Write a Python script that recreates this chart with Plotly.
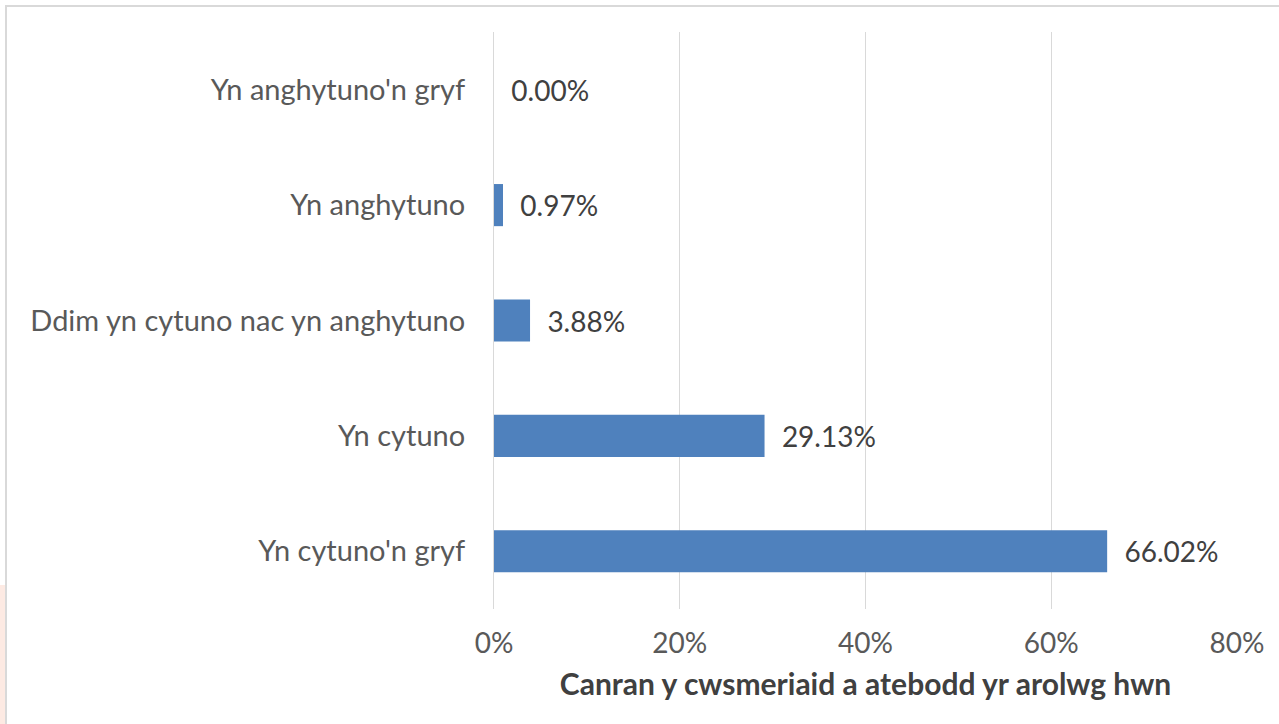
import plotly.graph_objects as go

categories = ["Yn cytuno'n gryf", "Yn cytuno", "Ddim yn cytuno nac yn anghytuno", "Yn anghytuno", "Yn anghytuno'n gryf"]
values = [66.02, 29.13, 3.88, 0.97, 0.00]
tick_vals = [0, 20, 40, 60, 80]
tick_text = ["0%", "20%", "40%", "60%", "80%"]
x_title = "Canran y cwsmeriaid a atebodd yr arolwg hwn"

FONT = "Lato, 'Noto Sans', sans-serif"

fig = go.Figure(go.Bar(
    y=categories, x=values, orientation="h",
    marker=dict(color="#4F81BD", line=dict(width=0)),
    width=0.365,
    texttemplate="\u00a0\u00a0%{x:.2f}%", textposition="outside",
    textfont=dict(family=FONT, size=28, color="#404040"),
    cliponaxis=False,
))

L, R, T, B = 494, 42, 32, 115
W, H = 1279, 724
pw = W - L - R
ph = H - T - B

fig.update_layout(
    width=W, height=H,
    margin=dict(l=L, r=R, t=T, b=B),
    plot_bgcolor="white", paper_bgcolor="white",
    showlegend=False,
    font=dict(family=FONT, color="#595959"),
    xaxis=dict(
        range=[0, 80], tickvals=tick_vals, ticktext=tick_text,
        showgrid=True, gridcolor="#D9D9D9", gridwidth=1,
        zeroline=False, showline=False,
        tickfont=dict(size=28, color="#595959"),
        ticklabelstandoff=15,
        title=dict(text="<b>" + x_title + "</b>", font=dict(size=30, color="#404040"), standoff=15),
    ),
    yaxis=dict(
        showgrid=False, zeroline=False,
        showline=True, linecolor="#D9D9D9", linewidth=1,
        tickfont=dict(size=29, color="#595959"),
        ticklabelstandoff=22,
    ),
    shapes=[
        dict(type="rect", xref="paper", yref="paper",
             x0=(6 - L) / pw, x1=(W + 5 - L) / pw,
             y0=-(H + 5 - T - ph) / ph - 0.01, y1=1 + (T - 6) / ph,
             line=dict(color="#D9D9D9", width=2), fillcolor="rgba(0,0,0,0)", layer="below"),
        dict(type="rect", xref="paper", yref="paper",
             x0=(0 - L) / pw, x1=(5 - L) / pw,
             y0=-(H - T - ph) / ph, y1=-(585 - T - ph) / ph,
             line=dict(width=0), fillcolor="#FDEAE3", layer="below"),
    ],
)

fig.write_html("out.html", config={"displayModeBar": False},
               post_script="document.body.style.margin='0';document.body.style.padding='0';")
